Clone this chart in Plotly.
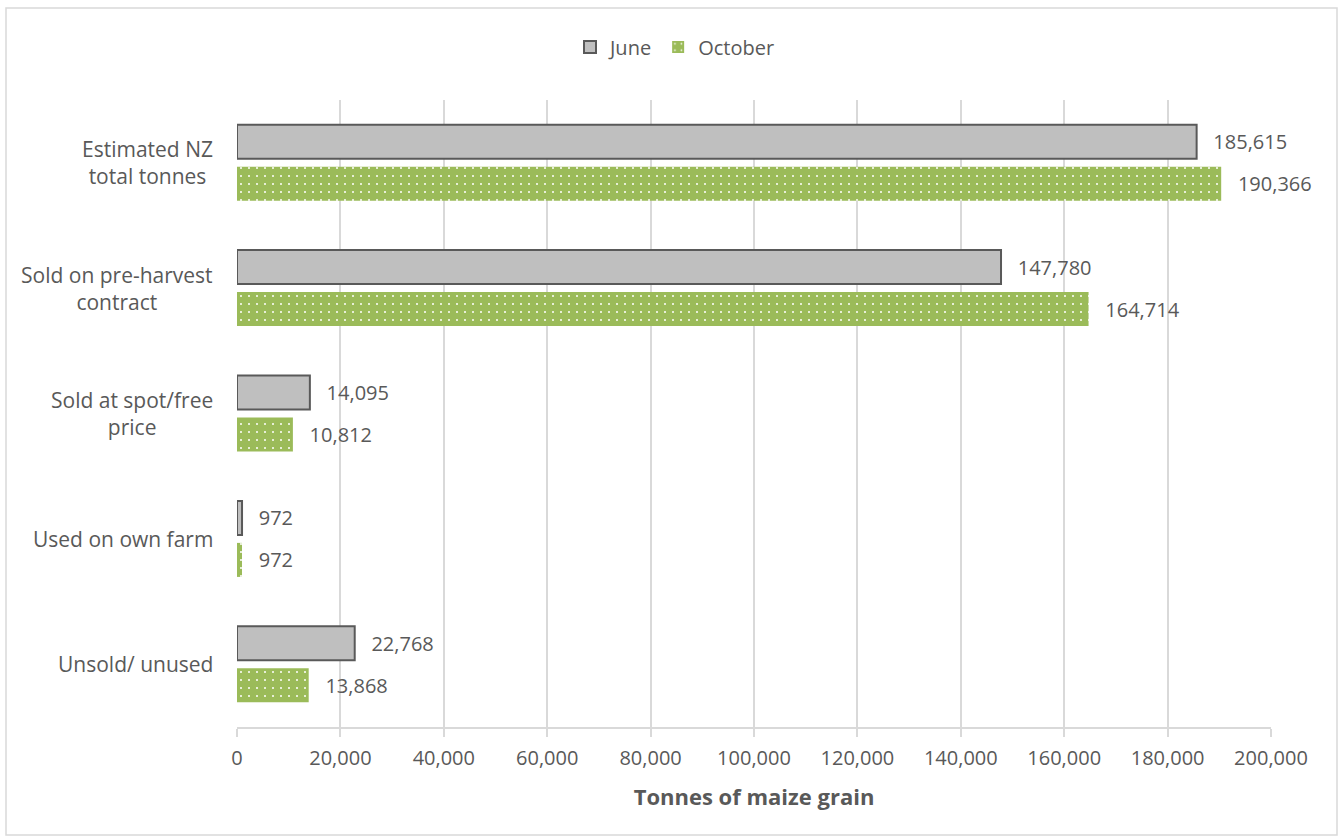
import plotly.graph_objects as go

categories = ["Estimated NZ total tonnes", "Sold on pre-harvest contract",
              "Sold at spot/free price", "Used on own farm", "Unsold/ unused"]
category_labels = ["Estimated NZ<br>total tonnes", "Sold on pre-harvest<br>contract",
                   "Sold at spot/free<br>price", "Used on own farm", "Unsold/ unused"]
june = [185615, 147780, 14095, 972, 22768]
october = [190366, 164714, 10812, 972, 13868]
x_ticks = [0, 20000, 40000, 60000, 80000, 100000, 120000, 140000, 160000, 180000, 200000]

FONT = "Open Sans"
TXT = "#595959"
PAD = "\u00a0\u00a0\u2009"

fig = go.Figure()
fig.add_trace(go.Bar(
    y=categories, x=june, name="June", orientation="h",
    marker=dict(color="#BFBFBF", line=dict(color="#595959", width=2)),
    texttemplate=PAD + "%{x:,}", textposition="outside",
    textfont=dict(size=20, color=TXT, family=FONT), cliponaxis=False,
))
fig.add_trace(go.Bar(
    y=categories, x=october, name="October", orientation="h",
    marker=dict(color="#9BBB59", line=dict(width=0),
                pattern=dict(shape=".", fgcolor="white", bgcolor="#9BBB59",
                             size=8, solidity=0.05, fillmode="replace")),
    texttemplate=PAD + "%{x:,}", textposition="outside",
    textfont=dict(size=20, color=TXT, family=FONT), cliponaxis=False,
))

annotations = []
for c, lab in zip(categories, category_labels):
    annotations.append(dict(x=-0.021, xref="paper", y=c, yref="y", text=lab,
                            showarrow=False, xanchor="right", yanchor="middle",
                            align="center", font=dict(size=21, color=TXT, family=FONT)))

L, R, T, B = 237, 1271, 100, 727
W, H = R - L, B - T
shapes = [dict(type="rect", xref="paper", yref="paper",
               x0=(6 - L) / W, x1=(1337 - L) / W,
               y0=(B - 835) / H, y1=(B - 8) / H,
               line=dict(color="#D9D9D9", width=1.5), fillcolor="rgba(0,0,0,0)", layer="below")]

fig.update_layout(
    width=1341, height=836,
    margin=dict(l=L, r=1341 - R, t=T, b=836 - B),
    paper_bgcolor="white", plot_bgcolor="white",
    barmode="group", bargap=0.33, bargroupgap=0.19,
    font=dict(family=FONT, size=20, color=TXT),
    showlegend=True,
    legend=dict(orientation="h", x=(675 - L) / W, xanchor="center",
                y=(B - 47) / H, yanchor="middle",
                font=dict(size=20, color=TXT, family=FONT), itemwidth=30,
                traceorder="normal"),
    annotations=annotations, shapes=shapes,
    xaxis=dict(range=[0, 200000], tickvals=x_ticks, tickformat=",",
               showgrid=True, gridcolor="#D9D9D9", gridwidth=2,
               showline=True, linecolor="#D9D9D9", linewidth=2,
               ticks="outside", ticklen=8, tickcolor="#D9D9D9", tickwidth=2,
               ticklabelstandoff=4,
               tickfont=dict(size=20, color=TXT, family=FONT),
               zeroline=False,
               title=dict(text="<b>Tonnes of maize grain</b>", standoff=20,
                          font=dict(size=22, color=TXT, family=FONT))),
    yaxis=dict(categoryorder="array", categoryarray=categories, autorange="reversed",
               showticklabels=False, showgrid=False, showline=False, ticks="",
               zeroline=False),
)

fig.write_html("out.html")
